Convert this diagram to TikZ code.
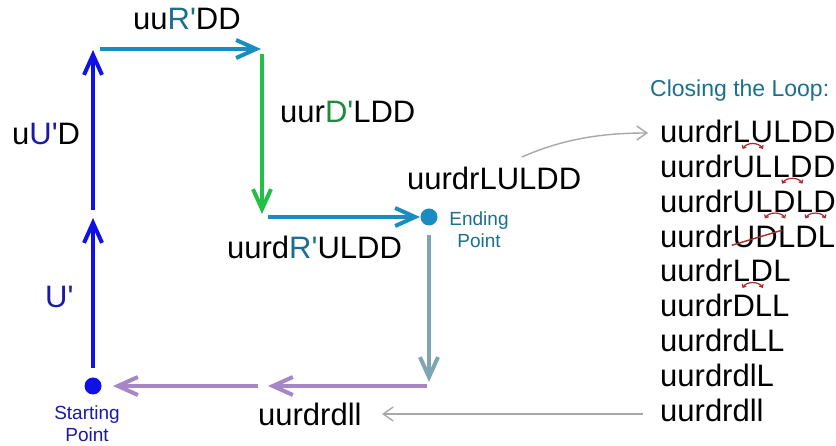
\documentclass[tikz,border=0pt]{standalone}
\usepackage{fontspec}
\setmainfont{Liberation Sans}
\usetikzlibrary{arrows.meta}
\definecolor{ublue}{HTML}{1010E8}
\definecolor{ubluetxt}{HTML}{1A1AA6}
\definecolor{rteal}{HTML}{1A8CC0}
\definecolor{rtealtxt}{HTML}{1B6F8E}
\definecolor{dgreen}{HTML}{22C044}
\definecolor{dgreentxt}{HTML}{1E8A3C}
\definecolor{ggrey}{HTML}{7FA5B5}
\definecolor{lpurple}{HTML}{A686C6}
\definecolor{swapred}{HTML}{A82C2C}
\definecolor{thingrey}{HTML}{A8A8A8}
\newcommand{\pr}{\textquotesingle}
\begin{document}
\begin{tikzpicture}[x=1pt,y=-1pt,
  big/.style={font=\fontsize{31}{37}\selectfont, inner sep=0pt, anchor=base west},
  small/.style={font=\fontsize{19}{22}\selectfont, inner sep=0pt, align=center, anchor=base},
  move/.style={line width=4pt, -{Straight Barb[length=20pt,width=18pt]}},
  thin arrow/.style={thingrey, line width=1.4pt, -{Straight Barb[length=10pt,width=14pt]}},
  swap/.style={swapred, line width=1.2pt, {Straight Barb[length=2.5pt,width=4.5pt]}-{Straight Barb[length=2.5pt,width=4.5pt]}},
  dot/.style={circle, inner sep=0pt, minimum size=17pt}]
\useasboundingbox (0,0) rectangle (836,446);

% points
\node[dot, fill=ublue] (S) at (93,386) {};
\node[dot, fill=rteal] (E) at (429,217) {};
\coordinate (b1s) at (93,368);
\coordinate (b1e) at (93,218);
\coordinate (b2s) at (93,210);
\coordinate (b2e) at (93,50);
\coordinate (t1s) at (100,49);
\coordinate (t1e) at (261,49);
\coordinate (g1s) at (262,54);
\coordinate (g1e) at (262,214);
\coordinate (t2s) at (268,217);
\coordinate (t2e) at (420,217);
\coordinate (d1s) at (429,235);
\coordinate (d1e) at (429,382);
\coordinate (p1s) at (427,386);
\coordinate (p1e) at (268,386);
\coordinate (p2s) at (258,386);
\coordinate (p2e) at (113,386);

\draw[move, ublue] (b1s) -- (b1e);
\draw[move, ublue] (b2s) -- (b2e);
\draw[move, rteal] (t1s) -- (t1e);
\draw[move, dgreen] (g1s) -- (g1e);
\draw[move, rteal] (t2s) -- (t2e);
\draw[move, ggrey] (d1s) -- (d1e);
\draw[move, lpurple] (p1s) -- (p1e);
\draw[move, lpurple] (p2s) -- (p2e);

% path labels
\node[big] (lU) at (45,308) {\textcolor{ubluetxt}{U\pr}};
\node[big] (luUD) at (12,145) {u\textcolor{ubluetxt}{U\pr}D};
\node[big] (luuR) at (133,30) {uu\textcolor{rtealtxt}{R\pr}DD};
\node[big] (luurD) at (280,123) {uur\textcolor{dgreentxt}{D\pr}LDD};
\node[big] (luurdR) at (227,259) {uurd\textcolor{rtealtxt}{R\pr}ULDD};
\node[big] (lend) at (407,190) {uurdrLULDD};
\node[big] (lfin) at (258,426) {uurdrdll};
\node[small, text=ubluetxt] (lstart) at (87,442) {Starting\\Point};
\node[small, text=rtealtxt] (lendpt) at (479,248) {Ending\\Point};

% closing the loop list
\node[big, font=\fontsize{23}{27}\selectfont, text=rtealtxt] (title) at (650,97) {Closing the Loop:};

\node[big] (r1a) at (660,143) {uurdr};
\node[big] (r1b) at (r1a.base east) {L};
\node[big] (r1c) at (r1b.base east) {U};
\node[big] (r1d) at (r1c.base east) {LDD};

\node[big] (r2a) at (660,177.75) {uurdrUL};
\node[big] (r2b) at (r2a.base east) {L};
\node[big] (r2c) at (r2b.base east) {D};
\node[big] (r2d) at (r2c.base east) {D};

\node[big] (r3a) at (660,212.5) {uurdrU};
\node[big] (r3b) at (r3a.base east) {L};
\node[big] (r3c) at (r3b.base east) {D};
\node[big] (r3d) at (r3c.base east) {L};
\node[big] (r3e) at (r3d.base east) {D};

\node[big] (r4a) at (660,247.25) {uurdr};
\node[big] (r4b) at (r4a.base east) {UD};
\node[big] (r4c) at (r4b.base east) {LDL};

\node[big] (r5a) at (660,282) {uurdr};
\node[big] (r5b) at (r5a.base east) {L};
\node[big] (r5c) at (r5b.base east) {D};
\node[big] (r5d) at (r5c.base east) {L};

\node[big] (r6) at (660,316.75) {uurdrDLL};
\node[big] (r7) at (660,351.5) {uurdrdLL};
\node[big] (r8) at (660,386.25) {uurdrdlL};
\node[big] (r9) at (660,421) {uurdrdll};

% swap marks
\draw[swap] ([xshift=1pt,yshift=-6pt]r1b.base) to[bend left=60] ([xshift=1pt,yshift=-6pt]r1c.base);
\draw[swap] ([xshift=1pt,yshift=-6pt]r2b.base) to[bend left=60] ([xshift=1pt,yshift=-6pt]r2c.base);
\draw[swap] ([xshift=1pt,yshift=-6pt]r3b.base) to[bend left=60] ([xshift=1pt,yshift=-6pt]r3c.base);
\draw[swap] ([xshift=1pt,yshift=-6pt]r3d.base) to[bend left=60] ([xshift=1pt,yshift=-6pt]r3e.base);
\draw[swap] ([xshift=1pt,yshift=-6pt]r5b.base) to[bend left=60] ([xshift=1pt,yshift=-6pt]r5c.base);
\draw[swapred, line width=1.4pt] ([xshift=-1pt,yshift=2pt]r4b.base west) -- ([xshift=4pt,yshift=17pt]r4b.base east);

% links
\coordinate (cs) at (522,157);
\coordinate (ce) at (648,133);
\draw[thin arrow] (cs) .. controls (565,138) and (605,133) .. (ce);
\coordinate (bs) at (643,414);
\coordinate (be) at (382,414);
\draw[thin arrow] (bs) -- (be);
\end{tikzpicture}
\end{document}
